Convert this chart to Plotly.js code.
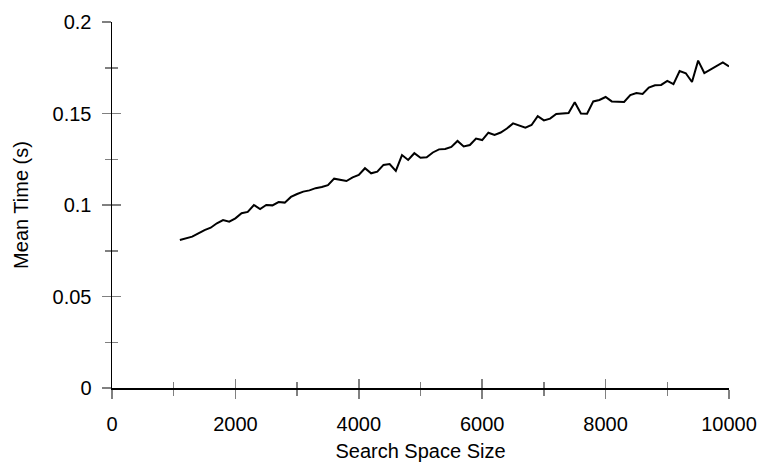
<!DOCTYPE html>
<html>
<head>
<meta charset="utf-8">
<script src="https://cdn.plot.ly/plotly-3.0.1.min.js"></script>
<style>
  html, body { margin: 0; padding: 0; background: #fff; }
  #chart { width: 762px; height: 469px; }
</style>
</head>
<body>
<div id="chart"></div>
<script>
// Search space sizes (x) and measured mean times in seconds (y)
const searchSpaceSize = [
  1100, 1200, 1300, 1400, 1500, 1600, 1700, 1800, 1900, 2000,
  2100, 2200, 2300, 2400, 2500, 2600, 2700, 2800, 2900, 3000,
  3100, 3200, 3300, 3400, 3500, 3600, 3700, 3800, 3900, 4000,
  4100, 4200, 4300, 4400, 4500, 4600, 4700, 4800, 4900, 5000,
  5100, 5200, 5300, 5400, 5500, 5600, 5700, 5800, 5900, 6000,
  6100, 6200, 6300, 6400, 6500, 6600, 6700, 6800, 6900, 7000,
  7100, 7200, 7300, 7400, 7500, 7600, 7700, 7800, 7900, 8000,
  8100, 8200, 8300, 8400, 8500, 8600, 8700, 8800, 8900, 9000,
  9100, 9200, 9300, 9400, 9500, 9600, 9700, 9800, 9900, 10000
];
const meanTime = [
  0.0809, 0.0818, 0.0827, 0.0845, 0.0863, 0.0876, 0.0900, 0.0918, 0.0909, 0.0927,
  0.0955, 0.0962, 0.1000, 0.0978, 0.1000, 0.0998, 0.1016, 0.1013, 0.1044, 0.1060,
  0.1073, 0.1080, 0.1092, 0.1098, 0.1108, 0.1144, 0.1138, 0.1131, 0.1151, 0.1164,
  0.1201, 0.1173, 0.1182, 0.1219, 0.1224, 0.1186, 0.1273, 0.1246, 0.1283, 0.1258,
  0.1261, 0.1287, 0.1304, 0.1306, 0.1317, 0.1350, 0.1320, 0.1328, 0.1363, 0.1355,
  0.1395, 0.1383, 0.1396, 0.1418, 0.1446, 0.1434, 0.1423, 0.1437, 0.1485, 0.1462,
  0.1472, 0.1497, 0.1499, 0.1503, 0.1561, 0.1500, 0.1499, 0.1566, 0.1574, 0.1590,
  0.1566, 0.1563, 0.1563, 0.1601, 0.1612, 0.1607, 0.1642, 0.1654, 0.1656, 0.1678,
  0.1660, 0.1732, 0.1720, 0.1672, 0.1789, 0.1721, 0.1740, 0.1757, 0.1779, 0.1757
];

const X_RANGE = [0, 10000];
const Y_RANGE = [0, 0.2];
const TICK_COLOR = '#808080';
const FONT = { family: 'Liberation Sans, Arial, sans-serif', size: 20, color: '#000' };

const traces = [
  {
    x: searchSpaceSize,
    y: meanTime,
    type: 'scatter',
    mode: 'lines',
    line: { color: '#000', width: 2 },
    showlegend: false,
    hoverinfo: 'x+y'
  },
  // empty trace that instantiates the overlay axes carrying the inner tick halves
  { x: [], y: [], xaxis: 'x2', yaxis: 'y2', type: 'scatter', mode: 'lines', showlegend: false, hoverinfo: 'skip' }
];

const outerTicks = (dtick, minorDtick) => ({
  ticks: 'outside', ticklen: 9, tickwidth: 1.5, tickcolor: TICK_COLOR, dtick: dtick,
  minor: { ticks: 'outside', ticklen: 6, tickwidth: 1.5, tickcolor: TICK_COLOR, dtick: minorDtick, showgrid: false }
});
const innerTicks = (dtick, minorDtick) => ({
  ticks: 'inside', ticklen: 9, tickwidth: 1.5, tickcolor: TICK_COLOR, dtick: dtick,
  minor: { ticks: 'inside', ticklen: 6, tickwidth: 1.5, tickcolor: TICK_COLOR, dtick: minorDtick, showgrid: false }
});

const layout = {
  width: 762,
  height: 469,
  margin: { l: 112, r: 33, t: 22, b: 81, pad: 0 },
  paper_bgcolor: '#fff',
  plot_bgcolor: '#fff',
  font: FONT,
  showlegend: false,
  xaxis: Object.assign({
    range: X_RANGE,
    tick0: 0,
    tickformat: 'd',
    showgrid: false,
    zeroline: false,
    showline: true,
    linecolor: '#000',
    linewidth: 1.5,
    tickfont: FONT,
    ticklabelstandoff: 8,
    title: { text: 'Search Space Size', font: FONT, standoff: 10 }
  }, outerTicks(2000, 1000)),
  yaxis: Object.assign({
    range: Y_RANGE,
    tick0: 0,
    showgrid: false,
    zeroline: false,
    showline: true,
    linecolor: '#000',
    linewidth: 1.5,
    tickfont: FONT,
    ticklabelstandoff: 6,
    title: { text: 'Mean Time (s)', font: FONT, standoff: 18 }
  }, outerTicks(0.05, 0.025)),
  xaxis2: Object.assign({
    overlaying: 'x',
    anchor: 'y2',
    range: X_RANGE,
    tick0: 0,
    showgrid: false,
    zeroline: false,
    showline: false,
    showticklabels: false
  }, innerTicks(2000, 1000)),
  yaxis2: Object.assign({
    overlaying: 'y',
    anchor: 'x2',
    range: Y_RANGE,
    tick0: 0,
    showgrid: false,
    zeroline: false,
    showline: false,
    showticklabels: false
  }, innerTicks(0.05, 0.025))
};

Plotly.newPlot('chart', traces, layout, { displayModeBar: false, staticPlot: true });
</script>
</body>
</html>
